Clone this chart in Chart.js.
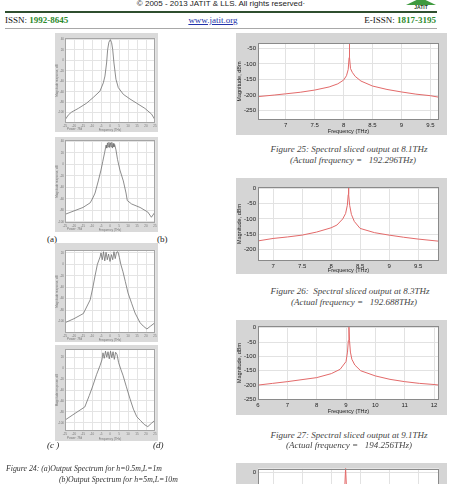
<!DOCTYPE html>
<html>
<head>
<meta charset="utf-8">
<script src="https://cdn.jsdelivr.net/npm/chart.js@4.4.1/dist/chart.umd.min.js"></script>
<style>
    html, body { margin: 0; padding: 0; width: 458px; height: 484px; overflow: hidden; background: #fff; }
    body { position: relative; font-family: "Liberation Serif", "Times New Roman", serif; color: #111; }
    .abs { position: absolute; white-space: nowrap; }
    .sans { font-family: "Liberation Sans", Arial, sans-serif; }
    .cap { font-style: italic; font-size: 9px; line-height: 10px; text-align: center; width: 300px; color: #444; }
    .sub { font-size: 9px; line-height: 10px; color: #222; }
    .small-cap { font-style: italic; font-size: 7.8px; line-height: 10px; color: #333; }
    canvas { position: absolute; display: block; }
    .green { color: #2c8a2c; font-weight: bold; }
</style>
</head>
<body>

<!-- page header -->
<div class="abs sans" style="left:0; top:-1px; width:442px; text-align:center; font-size:8px; line-height:10px; color:#222;">© 2005 - 2013 JATIT &amp; LLS. All rights reserved·</div>
<div class="abs" style="left:406px; top:0; width:30px; height:5px; background:#3f9a3f; clip-path:polygon(0 100%, 35% 0, 65% 0, 100% 100%);"></div>
<div class="abs sans" style="left:408px; top:4px; width:26px; text-align:center; font-size:5px; line-height:6px; font-weight:bold; color:#1f3f1f;">JATIT</div>
<div class="abs" style="left:5px; top:11px; width:432px; height:2px; background:#2f4f2f;"></div>
<div class="abs" style="left:5px; top:15px; font-size:9px; line-height:11px;">ISSN: <span class="green">1992-8645</span></div>
<div class="abs" style="left:163px; top:15px; width:100px; text-align:center; font-size:9px; line-height:11px; color:#2233aa; text-decoration:underline;">www.jatit.org</div>
<div class="abs" style="left:336px; top:15px; width:100px; text-align:right; font-size:9px; line-height:11px;">E-ISSN: <span class="green">1817-3195</span></div>
<div class="abs" style="left:5px; top:28px; width:432px; height:1px; background:#a8a8a8;"></div>

<!-- Figure 24 -->
<canvas id="fig24a" width="103" height="99" style="left:55px; top:33px;"></canvas>
<canvas id="fig24b" width="103" height="95" style="left:55px; top:137px;"></canvas>
<div class="abs sub" style="left:47px; top:234px;">(a)</div>
<div class="abs sub" style="left:157px; top:234px;">(b)</div>
<canvas id="fig24c" width="103" height="99" style="left:55px; top:243px;"></canvas>
<canvas id="fig24d" width="103" height="96" style="left:55px; top:345px;"></canvas>
<div class="abs sub" style="left:47px; top:440px; font-style:italic;">(c )</div>
<div class="abs sub" style="left:153px; top:440px; font-style:italic;">(d)</div>
<div class="abs small-cap" style="left:6px; top:464px;">Figure 24: (a)Output Spectrum for h=0.5m,L=1m</div>
<div class="abs small-cap" style="left:59px; top:475px;">(b)Output Spectrum for h=5m,L=10m</div>

<!-- Figure 25 ~ 28 -->
<canvas id="fig25" width="211" height="102" style="left:236px; top:33px;"></canvas>
<div class="abs cap" style="left:199px; top:144px;">Figure 25: Spectral sliced output at 8.1THz</div>
<div class="abs cap" style="left:203px; top:155px;">(Actual frequency = &nbsp;&nbsp;192.296THz)</div>

<canvas id="fig26" width="211" height="96" style="left:236px; top:178px;"></canvas>
<div class="abs cap" style="left:200px; top:286px;">Figure 26: &nbsp;Spectral sliced output at 8.3THz</div>
<div class="abs cap" style="left:204px; top:297px;">(Actual frequency = &nbsp;&nbsp;192.688THz)</div>

<canvas id="fig27" width="211" height="95" style="left:236px; top:320px;"></canvas>
<div class="abs cap" style="left:199px; top:430px;">Figure 27: Spectral sliced output at 9.1THz</div>
<div class="abs cap" style="left:199px; top:440px;">(Actual frequency = &nbsp;&nbsp;194.256THz)</div>

<canvas id="fig28" width="211" height="96" style="left:236px; top:463px;"></canvas>

<script>
// Figure 24: output spectrum (a)~(d), 주파수 THz / 크기 dB
const spectrumFreqTicks = [-25, -20, -15, -10, -5, 0, 5, 10, 15, 20, 25];
const spectrumDbTicksAB = [40, 20, 0, -20, -40, -60, -80, -100];
const spectrumDbTicksCD = [20, 0, -20, -40, -60, -80, -100];

const fig24aFreq = [-25, -23, -21.3, -17.6, -13, -9.3, -5.6, -3.7, -2.8, -1.9, -1.3, -0.6, 0.2, 0.9, 1.5, 2.2, 3.3, 4.6, 7.4, 11.1, 14.8, 19.4, 23.1, 25];
const fig24aDb = [-114, -104, -99, -92, -82, -71, -59, -43, -30, -5, 21, 35, 40, 34, 21, -5, -36, -52, -65, -74, -82, -92, -103, -114];

const fig24bFreq = [-25, -20, -15, -11, -9.3, -8.3, -6.5, -5, -4, -3, -2.2, -1.8, -1.4, -1, -0.6, -0.2, 0.2, 0.6, 1, 1.4, 1.8, 2.2, 2.6, 3.3, 4.2, 5.5, 7.4, 8.9, 9.6, 12, 16.7, 21, 23, 25];
const fig24bDb = [-87, -81, -75, -67, -57, -50, -29, -10, 5, 20, 33, 28, 37, 30, 38, 29, 37, 30, 38, 28, 36, 30, 34, 25, 8, -10, -29, -50, -63, -69, -75, -83, -92, -83];

const fig24cFreq = [-25, -20, -14.8, -11, -9.5, -8.3, -7, -5.5, -5, -4.3, -3.6, -2.9, -2.2, -1.5, -0.8, 0, 0.8, 1.5, 2.2, 2.9, 3.6, 4.4, 5.2, 6, 7.2, 8.5, 10, 12, 13.9, 16.7, 18.5, 20.5, 22.5, 25];
const fig24cDb = [-102, -95, -86, -62, -40, -20, 0, 13, 20, 8, 22, 6, 21, 8, 18, 5, 17, 8, 22, 10, 21, 22, 12, 0, -13, -30, -50, -68, -85, -102, -108, -113, -108, -102];

const fig24dFreq = [-25, -20, -14, -11.5, -9.4, -7.5, -5.5, -4.5, -3.9, -3.2, -2.5, -1.8, -1.1, -0.4, 0.3, 1, 1.7, 2.4, 3.1, 3.9, 4.8, 6, 7.2, 9, 11, 13, 14.9, 17, 19, 21, 23, 25];
const fig24dDb = [-95, -84, -71, -50, -31, -12, 5, 15, 28, 18, 31, 20, 30, 17, 31, 19, 30, 16, 29, 25, 10, -2, -13, -33, -55, -75, -89, -96, -103, -107, -101, -95];

// Figure 25~28: spectral sliced output, 주파수 THz / 크기 dBm
const fig25Freq = [6.52, 6.8, 7.0, 7.25, 7.5, 7.75, 7.9, 8.0, 8.05, 8.08, 8.095, 8.1, 8.105, 8.12, 8.15, 8.2, 8.3, 8.5, 8.75, 9.0, 9.25, 9.5, 9.65];
const fig25Dbm = [-205, -200, -196, -191, -184, -174, -164, -152, -138, -118, -80, -32, -80, -115, -127, -140, -155, -171, -182, -190, -197, -202, -207];
const fig25FreqTicks = [7, 7.5, 8, 8.5, 9, 9.5];
const fig25DbmTicks = [-50, -100, -150, -200, -250];

const fig26Freq = [6.74, 7.0, 7.25, 7.5, 7.75, 8.0, 8.1, 8.2, 8.25, 8.28, 8.295, 8.3, 8.305, 8.32, 8.35, 8.4, 8.5, 8.75, 9.0, 9.25, 9.5, 9.86];
const fig26Dbm = [-172, -164, -159, -153, -143, -129, -120, -100, -82, -55, -20, 2, -20, -55, -85, -108, -131, -145, -153, -160, -166, -173];
const fig26FreqTicks = [7, 7.5, 8, 8.5, 9, 9.5];
const fig26DbmTicks = [0, -50, -100, -150, -200];

const fig27Freq = [6.0, 6.5, 7.0, 7.5, 8.0, 8.5, 8.8, 9.0, 9.05, 9.08, 9.1, 9.12, 9.15, 9.2, 9.3, 9.5, 10.0, 10.5, 11.0, 11.5, 12.0, 12.17];
const fig27Dbm = [-200, -194, -188, -181, -174, -160, -145, -118, -85, -45, 2, -45, -85, -110, -130, -150, -168, -180, -188, -194, -198, -200];
const fig27FreqTicks = [6, 7, 8, 9, 10, 11, 12];
const fig27DbmTicks = [0, -50, -100, -150, -200, -250];

const fig28Freq = [6.74, 7.5, 8.0, 8.15, 8.2, 8.235, 8.25, 8.265, 8.3, 8.35, 8.5, 9.0, 9.86];
const fig28Dbm = [-172, -155, -133, -110, -90, -50, 15, -50, -90, -110, -133, -155, -172];
const fig28FreqTicks = [7, 7.5, 8, 8.5, 9, 9.5];
const fig28DbmTicks = [0, -50, -100, -150, -200];

{
    // 회색 바탕 + 흰 플롯 영역 + 테두리
    const plotFrame = {
        id: 'plotFrame',
        beforeDraw(chart, args, opts) {
            const { ctx, chartArea: a } = chart;
            ctx.save();
            ctx.fillStyle = opts.frameColor;
            ctx.fillRect(0, 0, chart.width, chart.height);
            ctx.fillStyle = '#ffffff';
            ctx.fillRect(a.left, a.top, a.right - a.left, a.bottom - a.top);
            ctx.restore();
        },
        afterDraw(chart, args, opts) {
            const { ctx, chartArea: a } = chart;
            ctx.save();
            ctx.strokeStyle = opts.borderColor;
            ctx.lineWidth = 1;
            ctx.strokeRect(Math.round(a.left) + 0.5, Math.round(a.top) + 0.5,
                Math.round(a.right - a.left) - 1, Math.round(a.bottom - a.top) - 1);
            if (opts.note) {
                ctx.fillStyle = opts.noteColor;
                ctx.font = opts.noteSize + 'px "Liberation Sans", Arial, sans-serif';
                ctx.textBaseline = 'bottom';
                ctx.fillText(opts.note, a.left + 2, chart.height - 1);
            }
            ctx.restore();
        }
    };

    const JatitPage = {
        charts: {},

        init() {
            Chart.defaults.font.family = '"Liberation Sans", Arial, sans-serif';
            this.initOutputSpectra();
            this.initSlicedOutputs();
        },

        drawChart(id, freq, level, cfg) {
            const el = document.getElementById(id);
            const points = freq.map((f, i) => ({ x: f, y: level[i] }));
            this.charts[id] = new Chart(el, {
                type: 'line',
                data: {
                    datasets: [{
                        data: points,
                        borderColor: cfg.lineColor,
                        borderWidth: cfg.lineWidth,
                        pointRadius: 0,
                        tension: 0,
                        fill: false
                    }]
                },
                options: {
                    responsive: false,
                    animation: false,
                    events: [],
                    layout: { padding: { left: 0, top: cfg.padTop, right: cfg.padRight, bottom: 0 } },
                    plugins: {
                        legend: { display: false },
                        tooltip: { enabled: false },
                        plotFrame: {
                            frameColor: cfg.frameColor,
                            borderColor: cfg.borderColor,
                            note: cfg.note,
                            noteSize: cfg.titleSize,
                            noteColor: cfg.tickColor
                        }
                    },
                    scales: {
                        x: {
                            type: 'linear',
                            min: cfg.xMin,
                            max: cfg.xMax,
                            afterBuildTicks: s => { s.ticks = cfg.xTicks.map(v => ({ value: v })); },
                            afterFit: s => { s.height = cfg.xAxisHeight; },
                            grid: { color: cfg.gridColor, drawTicks: false },
                            border: { display: false },
                            ticks: {
                                autoSkip: false, maxRotation: 0, padding: cfg.tickPad,
                                color: cfg.tickColor, font: { size: cfg.tickSize },
                                callback: v => String(v)
                            },
                            title: { display: true, text: cfg.xTitle, padding: 0, color: cfg.tickColor, font: { size: cfg.titleSize } }
                        },
                        y: {
                            min: cfg.yMin,
                            max: cfg.yMax,
                            afterBuildTicks: s => { s.ticks = cfg.yTicks.map(v => ({ value: v })); },
                            afterFit: s => { s.width = cfg.yAxisWidth; },
                            grid: { color: cfg.gridColor, drawTicks: false },
                            border: { display: false },
                            ticks: {
                                autoSkip: false, padding: cfg.tickPad,
                                color: cfg.tickColor, font: { size: cfg.tickSize },
                                callback: v => String(v)
                            },
                            title: { display: true, text: cfg.yTitle, padding: 0, color: cfg.tickColor, font: { size: cfg.titleSize } }
                        }
                    }
                },
                plugins: [plotFrame]
            });
        },

        // Figure 24: 작은 회색 스펙트럼 4개
        initOutputSpectra() {
            const base = {
                xMin: -25, xMax: 25, xTicks: spectrumFreqTicks,
                lineColor: '#707070', lineWidth: 0.8,
                frameColor: '#dadada', borderColor: '#a5a5a5', gridColor: '#e4e4e4',
                tickColor: '#777', tickSize: 3, titleSize: 3, tickPad: 1,
                yAxisWidth: 10, padRight: 3,
                xTitle: 'Frequency (THz)', yTitle: 'Magnitude response, dB', note: 'Power: 78d'
            };
            this.drawChart('fig24a', fig24aFreq, fig24aDb, Object.assign({}, base, {
                yMin: -120, yMax: 43, yTicks: spectrumDbTicksAB, padTop: 5, xAxisHeight: 9
            }));
            this.drawChart('fig24b', fig24bFreq, fig24bDb, Object.assign({}, base, {
                yMin: -102, yMax: 42, yTicks: spectrumDbTicksAB, padTop: 3, xAxisHeight: 9
            }));
            this.drawChart('fig24c', fig24cFreq, fig24cDb, Object.assign({}, base, {
                yMin: -120, yMax: 25, yTicks: spectrumDbTicksCD, padTop: 7, xAxisHeight: 9
            }));
            this.drawChart('fig24d', fig24dFreq, fig24dDb, Object.assign({}, base, {
                yMin: -115, yMax: 35, yTicks: spectrumDbTicksCD, padTop: 4, xAxisHeight: 10
            }));
        },

        // Figure 25~28: 빨간 선 스펙트럼
        initSlicedOutputs() {
            const base = {
                lineColor: '#e36a6a', lineWidth: 1,
                frameColor: '#d5d5d5', borderColor: '#8a8a8a', gridColor: '#e2e2e2',
                tickColor: '#222', tickSize: 6, titleSize: 5.5, tickPad: 2,
                yAxisWidth: 22, padRight: 8,
                xTitle: 'Frequency (THz)', yTitle: 'Magnitude, dBm', note: ''
            };
            this.drawChart('fig25', fig25Freq, fig25Dbm, Object.assign({}, base, {
                xMin: 6.52, xMax: 9.65, xTicks: fig25FreqTicks,
                yMin: -280, yMax: -33, yTicks: fig25DbmTicks, padTop: 10, xAxisHeight: 15
            }));
            this.drawChart('fig26', fig26Freq, fig26Dbm, Object.assign({}, base, {
                xMin: 6.74, xMax: 9.86, xTicks: fig26FreqTicks,
                yMin: -238, yMax: 5, yTicks: fig26DbmTicks, padTop: 9, xAxisHeight: 13
            }));
            this.drawChart('fig27', fig27Freq, fig27Dbm, Object.assign({}, base, {
                xMin: 6, xMax: 12.17, xTicks: fig27FreqTicks,
                yMin: -252, yMax: 6, yTicks: fig27DbmTicks, padTop: 6, xAxisHeight: 15
            }));
            this.drawChart('fig28', fig28Freq, fig28Dbm, Object.assign({}, base, {
                xMin: 6.74, xMax: 9.86, xTicks: fig28FreqTicks,
                yMin: -238, yMax: 13, yTicks: fig28DbmTicks, padTop: 3, xAxisHeight: 13
            }));
        }
    };

    JatitPage.init();
}
</script>
</body>
</html>
